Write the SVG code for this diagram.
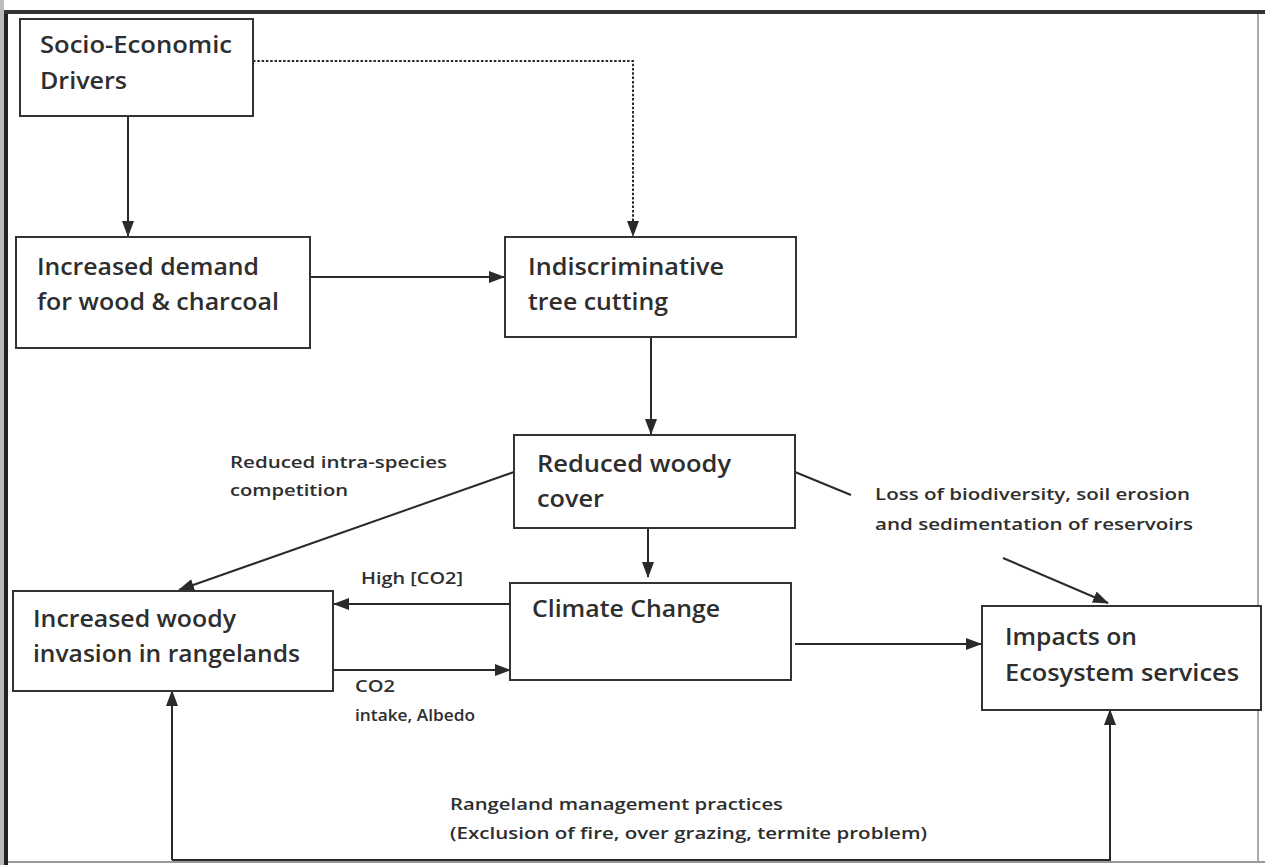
<svg xmlns="http://www.w3.org/2000/svg" width="1265" height="865" viewBox="0 0 1265 865">
<style>
.box{fill:#fff;stroke:#333;stroke-width:2}
.t{font-family:"Open Sans","Liberation Sans",sans-serif;font-size:23px;font-weight:600;fill:#2e2e2e}
.s{font-family:"Open Sans","Liberation Sans",sans-serif;font-size:16px;font-weight:600;fill:#2e2e2e}
.c{fill:none;stroke:#2a2a2a;stroke-width:2}
</style>
<defs>
<marker id="ah" markerUnits="userSpaceOnUse" markerWidth="16" markerHeight="14" refX="15" refY="7" orient="auto">
<path d="M0,1 L16,7 L0,13 Z" fill="#2a2a2a"/>
</marker>
</defs>
<rect x="0" y="0" width="1265" height="865" fill="#fff"/>
<rect x="0" y="0" width="4" height="865" fill="#bbb"/>
<g id="frame">
<line x1="1258" y1="12" x2="1258" y2="862" stroke="#aaa" stroke-width="2"/>
<line x1="5" y1="862" x2="1265" y2="862" stroke="#999" stroke-width="2"/>
<line x1="6" y1="12" x2="6" y2="865" stroke="#222" stroke-width="4"/>
<line x1="4" y1="12" x2="1265" y2="12" stroke="#333" stroke-width="4"/>
</g>
<g id="connectors">
<line class="c" x1="128" y1="116" x2="128" y2="236" marker-end="url(#ah)"/>
<polyline class="c" points="253,61 633,61 633,236" stroke-dasharray="2.5,1.8" stroke-width="3.5" marker-end="url(#ah)"/>
<line class="c" x1="310" y1="277" x2="504" y2="277" marker-end="url(#ah)"/>
<line class="c" x1="651" y1="337" x2="651" y2="434" marker-end="url(#ah)"/>
<line class="c" x1="648" y1="528" x2="648" y2="577" marker-end="url(#ah)"/>
<line class="c" x1="514" y1="472" x2="179" y2="590" marker-end="url(#ah)"/>
<line class="c" x1="510" y1="604" x2="334" y2="604" marker-end="url(#ah)"/>
<line class="c" x1="333" y1="670" x2="510" y2="670" marker-end="url(#ah)"/>
<line class="c" x1="795" y1="644" x2="981" y2="644" marker-end="url(#ah)"/>
<line class="c" x1="795" y1="472" x2="851" y2="495"/>
<line class="c" x1="1003" y1="558" x2="1108" y2="603" marker-end="url(#ah)"/>
<polyline class="c" points="172,860 172,691" marker-end="url(#ah)"/>
<polyline class="c" points="172,860 1110,860 1110,710" marker-end="url(#ah)"/>
</g>
<g id="n-socio">
<rect class="box" x="20" y="19" width="233" height="97"/>
<text class="t" x="40" y="53" textLength="192" lengthAdjust="spacingAndGlyphs">Socio-Economic</text>
<text class="t" x="40" y="89" textLength="87" lengthAdjust="spacingAndGlyphs">Drivers</text>
</g>
<g id="n-demand">
<rect class="box" x="16" y="237" width="294" height="111"/>
<text class="t" x="37" y="275" textLength="222" lengthAdjust="spacingAndGlyphs">Increased demand</text>
<text class="t" x="37" y="310" textLength="242" lengthAdjust="spacingAndGlyphs">for wood &amp; charcoal</text>
</g>
<g id="n-cutting">
<rect class="box" x="505" y="237" width="291" height="100"/>
<text class="t" x="528" y="275" textLength="196" lengthAdjust="spacingAndGlyphs">Indiscriminative</text>
<text class="t" x="528" y="310" textLength="140" lengthAdjust="spacingAndGlyphs">tree cutting</text>
</g>
<g id="n-reduced">
<rect class="box" x="514" y="435" width="281" height="93"/>
<text class="t" x="537" y="472" textLength="194" lengthAdjust="spacingAndGlyphs">Reduced woody</text>
<text class="t" x="537" y="507" textLength="67" lengthAdjust="spacingAndGlyphs">cover</text>
</g>
<g id="n-climate">
<rect class="box" x="510" y="583" width="281" height="97"/>
<text class="t" x="532" y="617" textLength="188" lengthAdjust="spacingAndGlyphs">Climate Change</text>
</g>
<g id="n-invasion">
<rect class="box" x="13" y="591" width="320" height="100"/>
<text class="t" x="33" y="627" textLength="203" lengthAdjust="spacingAndGlyphs">Increased woody</text>
<text class="t" x="33" y="662" textLength="267" lengthAdjust="spacingAndGlyphs">invasion in rangelands</text>
</g>
<g id="n-impacts">
<rect class="box" x="982" y="606" width="279" height="104"/>
<text class="t" x="1005" y="645" textLength="132" lengthAdjust="spacingAndGlyphs">Impacts on</text>
<text class="t" x="1005" y="681" textLength="234" lengthAdjust="spacingAndGlyphs">Ecosystem services</text>
</g>
<g id="labels">
<text class="s" x="230" y="468" textLength="217" lengthAdjust="spacingAndGlyphs">Reduced intra-species</text>
<text class="s" x="230" y="496" textLength="118" lengthAdjust="spacingAndGlyphs">competition</text>
<text class="s" x="875" y="500" textLength="315" lengthAdjust="spacingAndGlyphs">Loss of biodiversity, soil erosion</text>
<text class="s" x="875" y="530" textLength="318" lengthAdjust="spacingAndGlyphs">and sedimentation of reservoirs</text>
<text class="s" x="361" y="584" textLength="102" lengthAdjust="spacingAndGlyphs">High [CO2]</text>
<text class="s" x="355" y="692" textLength="40" lengthAdjust="spacingAndGlyphs">CO2</text>
<text class="s" x="355" y="721" textLength="120" lengthAdjust="spacingAndGlyphs">intake, Albedo</text>
<text class="s" x="450" y="810" textLength="333" lengthAdjust="spacingAndGlyphs">Rangeland management practices</text>
<text class="s" x="450" y="839" textLength="477" lengthAdjust="spacingAndGlyphs">(Exclusion of fire, over grazing, termite problem)</text>
</g>
</svg>
